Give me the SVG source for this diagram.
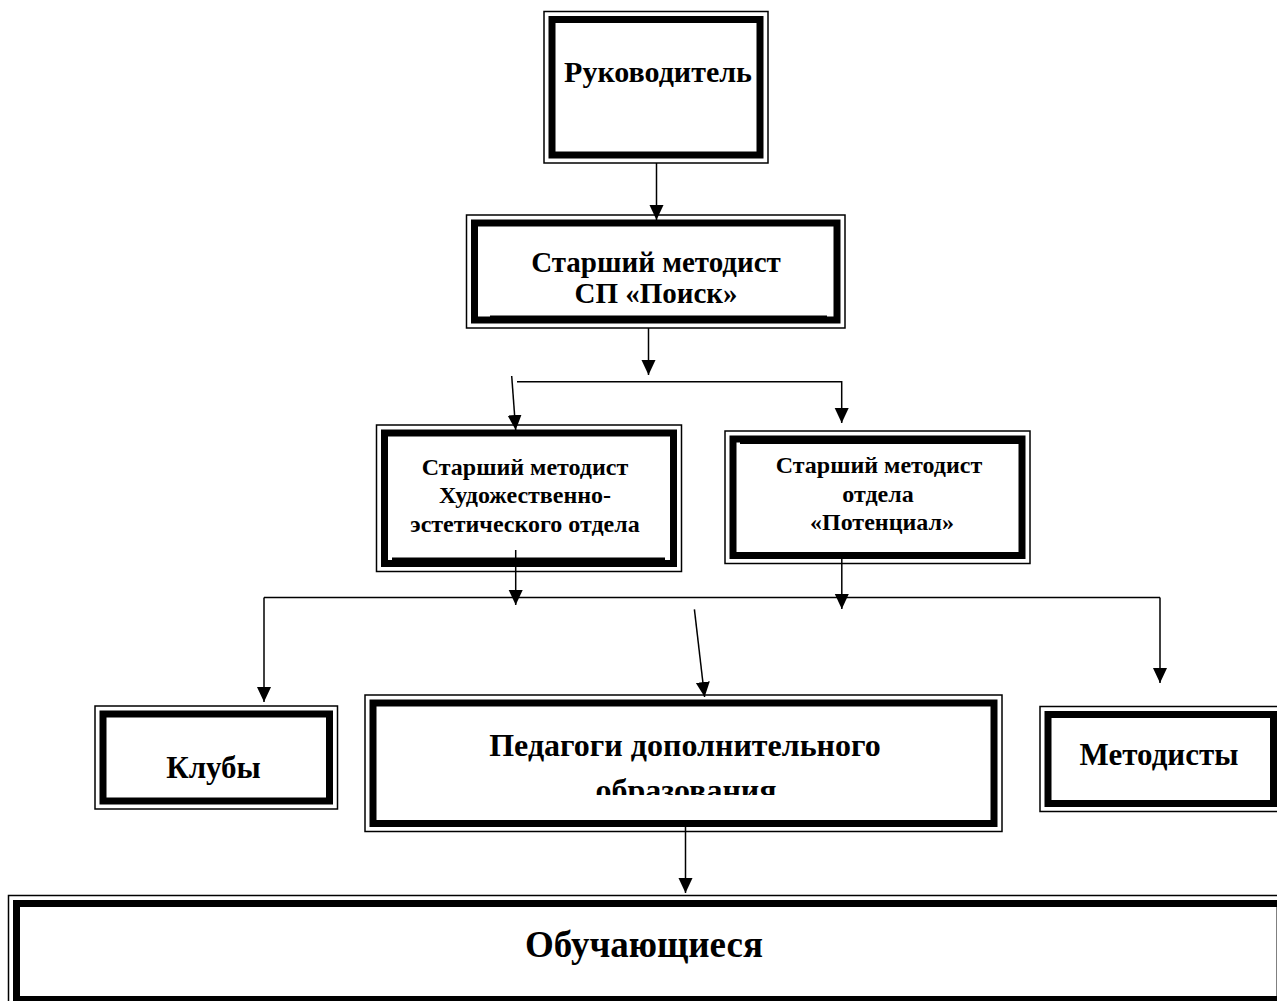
<svg xmlns="http://www.w3.org/2000/svg" width="1277" height="1001" viewBox="0 0 1277 1001">
<style>
.outer{fill:#fff;stroke:#000;stroke-width:1.5}
.thick{fill:none;stroke:#000;stroke-width:7}
.t{font-family:"Liberation Serif","Times New Roman",serif;font-weight:bold;text-anchor:middle;fill:#000}
.c{fill:none;stroke:#000;stroke-width:1.5}
</style>
<defs>
<marker id="ah" markerUnits="userSpaceOnUse" markerWidth="16" markerHeight="15" refX="15" refY="7" orient="auto">
<path d="M0,0 L15,7 L0,14 z" fill="#000"/>
</marker>
<clipPath id="clipPed"><rect x="365" y="695" width="637" height="100"/></clipPath>
</defs>
<rect width="1277" height="1001" fill="#fff"/>
<g id="node-rukovoditel">
<rect class="outer" x="544" y="11.5" width="224" height="151.5"/>
<rect class="thick" x="552" y="19.5" width="208" height="135.5"/>
<text class="t" x="658" y="82" font-size="30">Руководитель</text>
</g>
<g id="node-poisk">
<rect class="outer" x="466.5" y="215" width="378.5" height="113"/>
<rect class="thick" x="474.5" y="223" width="362.5" height="97"/>
<rect x="490" y="315.5" width="337" height="2" fill="#000"/>
<text class="t" x="656" y="272" font-size="29">Старший методист</text>
<text class="t" x="656" y="303" font-size="29">СП «Поиск»</text>
</g>
<g id="node-hud">
<rect class="outer" x="376.5" y="425" width="305" height="146.5"/>
<rect class="thick" x="384.5" y="433" width="289" height="130.5"/>
<rect x="392" y="557.5" width="273" height="3" fill="#000"/>
<text class="t" x="525" y="475" font-size="24">Старший методист</text>
<text class="t" x="525" y="503" font-size="24">Художественно-</text>
<text class="t" x="525" y="531.5" font-size="24">эстетического отдела</text>
</g>
<g id="node-potencial">
<rect class="outer" x="725" y="431" width="305" height="132.5"/>
<rect class="thick" x="733" y="439" width="289" height="116.5"/>
<rect x="740" y="442" width="279" height="2" fill="#000"/>
<text class="t" x="879" y="473" font-size="24">Старший методист</text>
<text class="t" x="878" y="501.5" font-size="24">отдела</text>
<text class="t" x="882" y="530" font-size="24">«Потенциал»</text>
</g>
<g id="node-kluby">
<rect class="outer" x="95" y="706" width="242.5" height="103"/>
<rect class="thick" x="103" y="714" width="226.5" height="87"/>
<text class="t" x="213.5" y="778" font-size="31">Клубы</text>
</g>
<g id="node-pedagogi">
<rect class="outer" x="365" y="695" width="637" height="136.5"/>
<rect class="thick" x="373" y="703" width="621" height="120.5"/>
<text class="t" x="685" y="756" font-size="32">Педагоги дополнительного</text>
<text class="t" x="686" y="801" font-size="32" clip-path="url(#clipPed)">образования</text>
</g>
<g id="node-metodisty">
<rect class="outer" x="1040" y="706.5" width="241.5" height="105"/>
<rect class="thick" x="1048" y="714.5" width="225.5" height="89"/>
<text class="t" x="1159" y="765" font-size="31">Методисты</text>
</g>
<g id="node-obuch">
<rect class="outer" x="8.5" y="895.5" width="1279.5" height="112"/>
<rect class="thick" x="16.5" y="903.5" width="1263.5" height="96"/>
<text class="t" x="644" y="957" font-size="37">Обучающиеся</text>
</g>
<g id="connectors">
<line class="c" x1="656.5" y1="163" x2="656.5" y2="220" marker-end="url(#ah)"/>
<line class="c" x1="648.5" y1="328" x2="648.5" y2="375" marker-end="url(#ah)"/>
<polyline class="c" points="517,381.7 841.7,381.7 841.7,423" marker-end="url(#ah)"/>
<line class="c" x1="511.7" y1="376" x2="515.7" y2="430" marker-end="url(#ah)"/>
<line class="c" x1="515.7" y1="550" x2="515.7" y2="605" marker-end="url(#ah)"/>
<line class="c" x1="841.8" y1="556" x2="841.8" y2="609" marker-end="url(#ah)"/>
<line class="c" x1="264" y1="597.5" x2="1160" y2="597.5"/>
<line class="c" x1="264" y1="597.5" x2="264" y2="702" marker-end="url(#ah)"/>
<line class="c" x1="1160" y1="597.5" x2="1160" y2="683" marker-end="url(#ah)"/>
<line class="c" x1="694.4" y1="609.3" x2="704.6" y2="697" marker-end="url(#ah)"/>
<line class="c" x1="685.5" y1="827" x2="685.5" y2="893" marker-end="url(#ah)"/>
</g>
</svg>
